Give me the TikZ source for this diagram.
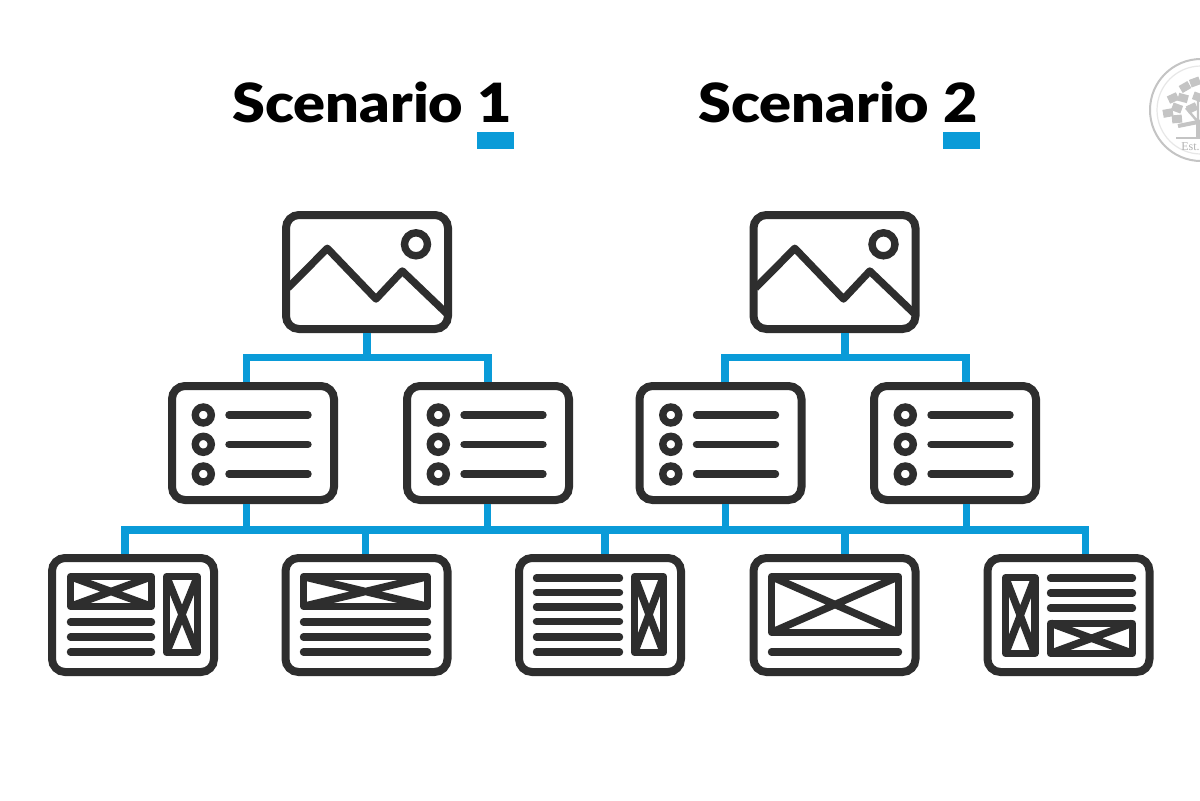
\documentclass[tikz,border=0pt]{standalone}
\usepackage{fontspec}
\setmainfont{Lato}
\newfontfamily\titlefont[FakeStretch=1.1]{Lato Black}
\newfontfamily\logofont{Liberation Serif}
\definecolor{ink}{HTML}{2E2E2E}
\definecolor{sky}{HTML}{0A9BD8}
\definecolor{seal}{HTML}{C4C4C4}
\tikzset{
  card/.style={draw=ink,line width=4pt,fill=white,rounded corners=6.5pt,minimum width=81pt,minimum height=57pt,inner sep=0pt},
  conn/.style={draw=sky,line width=3.75pt,line join=miter},
  rule/.style={draw=ink,line width=3.7pt,line cap=round},
  frame/.style={draw=ink,line width=3.7pt,line join=round},
  title/.style={font=\titlefont\fontsize{27}{30}\selectfont,text=black,anchor=base west,inner sep=0pt},
  bar/.style={fill=sky,draw=none,minimum width=18.5pt,minimum height=8.5pt,inner sep=0pt},
  leaf/.style={fill=seal,draw=none,minimum width=5pt,minimum height=4pt,inner sep=0pt}
}
% placeholder image: outer bounds x1,y1,x2,y2 in pixels
\newcommand{\wfbox}[4]{%
  \draw[frame,fill=white] (#1+3.7,#2+3.7) rectangle (#3-3.7,#4-3.7);
  \draw[frame] (#1+3.7,#2+3.7) -- (#3-3.7,#4-3.7) (#1+3.7,#4-3.7) -- (#3-3.7,#2+3.7);
}
\newcommand{\bars}[3]{\foreach \yy in {#3} \draw[rule] (#1+3.5,\yy) -- (#2-3.5,\yy);}
\newcommand{\imgicon}{%
  \draw[draw=ink,line width=3.7pt,line join=round] (-79,16) -- (-39.7,-23.7) -- (9,27) -- (35.3,-1) -- (79.5,41.3);
  \draw[draw=ink,line width=3.7pt] (49,-27.7) circle (11.5);
}
\newcommand{\listicon}{%
  \foreach \yy in {-28,1.3,31} {
    \draw[draw=ink,line width=3.7pt] (-49.7,\yy) circle (8);
    \draw[rule] (-24,\yy) -- (55,\yy);
  }
}
\begin{document}
\begin{tikzpicture}[x=0.5pt,y=-0.5pt]
\path[use as bounding box,fill=white] (0,0) rectangle (1200,800);

% seal
\begin{scope}
  \clip (1100,40) rectangle (1200,180);
  \draw[seal,line width=1pt] (1201,110) circle (51);
  \draw[seal!40,line width=0.6pt] (1201,110) circle (44);
  \draw[seal,line width=2pt] (1198,138) -- (1198,122) -- (1178,126);
  \draw[seal,line width=1.2pt] (1198,122) -- (1186,108) (1198,124) -- (1198,100);
  \foreach \a/\b/\r in {1168/113/10,1177/119/5,1173/98/25,1183/98/-15,1185/87/30,1195/82/20,1177/108/-20,1192/108/25,1198/97/-20}
    \node[leaf,rotate=\r] at (\a,\b) {};
  \draw[seal,line width=0.7pt] (1176,138) -- (1200,138);
  \node[font=\logofont\fontsize{6}{7}\selectfont,text=seal!130,inner sep=0pt,anchor=base west] (est) at (1181,150) {Est.};
\end{scope}

% titles
\node[title] (t1) at (232,122) {Scenario 1};
\node[title] (t2) at (698,122) {Scenario 2};
\node[bar] (b1) at (495.5,140) {};
\node[bar] (b2) at (961.5,140) {};

% cards
\node[card] (top1) at (367,272) {};
\node[card] (top2) at (834.5,272) {};
\node[card] (m1) at (253,443) {};
\node[card] (m2) at (488,443) {};
\node[card] (m3) at (720.5,443) {};
\node[card] (m4) at (955,443) {};
\node[card] (c1) at (133,615) {};
\node[card] (c2) at (366.5,615) {};
\node[card] (c3) at (600,615) {};
\node[card] (c4) at (834.5,615) {};
\node[card] (c5) at (1068.5,615) {};

% junctions on the buses
\coordinate (ja) at (367,357.5);
\coordinate (jb) at (845,357.5);
\coordinate (jc) at (605,530);

% upper connectors
\draw[conn] (ja |- top1.south) -- (ja);
\draw[conn] (246.5,357.5 |- m1.north) -- (246.5,357.5) -- (488,357.5) -- (488,357.5 |- m2.north);
\draw[conn] (jb |- top2.south) -- (jb);
\draw[conn] (725,357.5 |- m3.north) -- (725,357.5) -- (966,357.5) -- (966,357.5 |- m4.north);

% lower bus
\draw[conn] (125,530 |- c1.north) -- (125,530) -- (1085.5,530) -- (1085.5,530 |- c5.north);
\draw[conn] (365.5,530) -- (365.5,530 |- c2.north);
\draw[conn] (jc) -- (jc |- c3.north);
\draw[conn] (845,530) -- (845,530 |- c4.north);
\draw[conn] (246.5,530 |- m1.south) -- (246.5,530);
\draw[conn] (487.5,530 |- m2.south) -- (487.5,530);
\draw[conn] (725.5,530 |- m3.south) -- (725.5,530);
\draw[conn] (966.5,530 |- m4.south) -- (966.5,530);

% icons
\begin{scope}[shift={(top1.center)}]\imgicon\end{scope}
\begin{scope}[shift={(top2.center)}]\imgicon\end{scope}
\foreach \n in {m1,m2,m3,m4} {\begin{scope}[shift={(\n.center)}]\listicon\end{scope}}

\wfbox{67}{573}{155}{610}
\wfbox{163}{573}{201}{656}
\bars{67}{155}{622,637,652}

\wfbox{300}{573}{431}{610}
\bars{300}{431}{622,637,652}

\bars{533}{623}{578,592.5,607,621.5,637,652}
\wfbox{631}{573}{667}{656}

\wfbox{768}{573}{902}{636}
\bars{768}{902}{652}

\wfbox{1002}{574}{1038.5}{657}
\bars{1047}{1136}{578,593,608}
\wfbox{1047}{619.5}{1136}{657}
\end{tikzpicture}
\end{document}
